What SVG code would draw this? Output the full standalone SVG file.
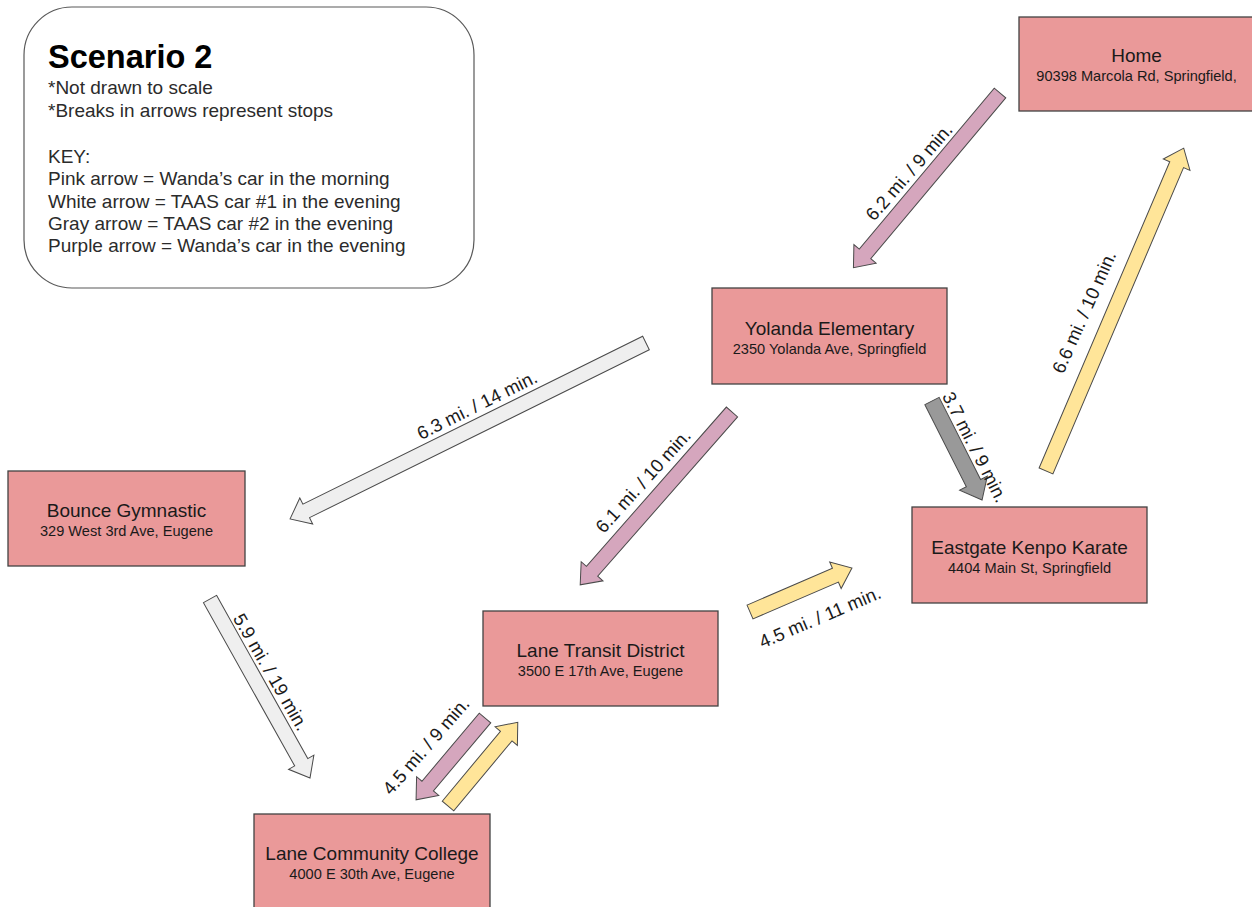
<svg xmlns="http://www.w3.org/2000/svg" width="1252" height="907" viewBox="0 0 1252 907">
<style>
.node rect{fill:#ea9999;stroke:#434343;stroke-width:1.3}
.t{font-family:"Liberation Sans",Arial,sans-serif;fill:#1a1a1a;text-anchor:middle}
.nt{font-size:19px}
.na{font-size:14.6px}
.lg{font-family:"Liberation Sans",Arial,sans-serif;fill:#2b2b2b;font-size:19px}
.ttl{font-family:"Liberation Sans",Arial,sans-serif;fill:#000;font-size:32.5px;font-weight:bold}
.ar{stroke:#4a4a4a;stroke-width:1;stroke-linejoin:miter}
.pink{fill:#d5a6bd}
.yel{fill:#ffe599}
.lgr{fill:#efefef}
.gry{fill:#999999}
.lbl{font-family:"Liberation Sans",Arial,sans-serif;fill:#1a1a1a;font-size:18.5px;text-anchor:middle}
</style>
<rect width="1252" height="907" fill="#fff"/>
<g id="legend">
<rect x="24" y="7" width="450" height="281" rx="48" ry="48" fill="#fff" stroke="#595959" stroke-width="1.2"/>
<text class="ttl" x="48" y="68">Scenario 2</text>
<text class="lg" x="48" y="94">*Not drawn to scale</text>
<text class="lg" x="48" y="117">*Breaks in arrows represent stops</text>
<text class="lg" x="48" y="163">KEY:</text>
<text class="lg" x="48" y="185">Pink arrow = Wanda’s car in the morning</text>
<text class="lg" x="48" y="207.5">White arrow = TAAS car #1 in the evening</text>
<text class="lg" x="48" y="230">Gray arrow = TAAS car #2 in the evening</text>
<text class="lg" x="48" y="252">Purple arrow = Wanda’s car in the evening</text>
</g>
<g id="connectors">
<polygon class="ar pink" transform="translate(1000,93) rotate(130)" points="0,-7.5 210,-7.5 210,-14.5 228,0 210,14.5 210,7.5 0,7.5"/>
<polygon class="ar yel" transform="translate(1046,471) rotate(-66.9)" points="0,-7.5 333,-7.5 333,-14.5 351,0 333,14.5 333,7.5 0,7.5"/>
<polygon class="ar gry" transform="translate(932,401) rotate(63.2)" points="0,-8 92,-8 92,-15.5 111,0 92,15.5 92,8 0,8"/>
<polygon class="ar lgr" transform="translate(646,343) rotate(153.7)" points="0,-7.5 379,-7.5 379,-14.5 397,0 379,14.5 379,7.5 0,7.5"/>
<polygon class="ar pink" transform="translate(732,412) rotate(131.3)" points="0,-7.5 212,-7.5 212,-14.5 230,0 212,14.5 212,7.5 0,7.5"/>
<polygon class="ar lgr" transform="translate(210,599) rotate(60.8)" points="0,-7.5 187,-7.5 187,-14.5 205,0 187,14.5 187,7.5 0,7.5"/>
<polygon class="ar pink" transform="translate(485,718) rotate(130.1)" points="0,-7.5 89,-7.5 89,-14.5 107,0 89,14.5 89,7.5 0,7.5"/>
<polygon class="ar yel" transform="translate(448,806) rotate(-50.2)" points="0,-7.5 91,-7.5 91,-14.5 109,0 91,14.5 91,7.5 0,7.5"/>
<polygon class="ar yel" transform="translate(750,612) rotate(-23.3)" points="0,-7.5 93,-7.5 93,-14.5 111,0 93,14.5 93,7.5 0,7.5"/>
<text class="lbl" transform="translate(909,172) rotate(-49)" dy="0.35em">6.2 mi. / 9 min.</text>
<text class="lbl" transform="translate(1084,312) rotate(-66)" dy="0.35em">6.6 mi. / 10 min.</text>
<text class="lbl" transform="translate(975,447) rotate(63)" dy="0.35em">3.7 mi. / 9 min.</text>
<text class="lbl" transform="translate(477,405) rotate(-26.5)" dy="0.35em">6.3 mi. / 14 min.</text>
<text class="lbl" transform="translate(643,481) rotate(-48)" dy="0.35em">6.1 mi. / 10 min.</text>
<text class="lbl" transform="translate(271,672) rotate(60)" dy="0.35em">5.9 mi. / 19 min.</text>
<text class="lbl" transform="translate(426,746) rotate(-49)" dy="0.35em">4.5 mi. / 9 min.</text>
<text class="lbl" transform="translate(820,617) rotate(-23)" dy="0.35em">4.5 mi. / 11 min.</text>
</g>
<g id="home" class="node">
<rect x="1019" y="17" width="235" height="94"/>
<text class="t nt" x="1136.5" y="62">Home</text>
<text class="t na" x="1136.5" y="81">90398 Marcola Rd, Springfield,</text>
</g>
<g id="yolanda" class="node">
<rect x="712" y="288" width="235" height="96"/>
<text class="t nt" x="829.5" y="335">Yolanda Elementary</text>
<text class="t na" x="829.5" y="354">2350 Yolanda Ave, Springfield</text>
</g>
<g id="eastgate" class="node">
<rect x="912" y="507" width="235" height="96"/>
<text class="t nt" x="1029.5" y="554">Eastgate Kenpo Karate</text>
<text class="t na" x="1029.5" y="573">4404 Main St, Springfield</text>
</g>
<g id="bounce" class="node">
<rect x="8" y="471" width="237" height="95"/>
<text class="t nt" x="126.5" y="517">Bounce Gymnastic</text>
<text class="t na" x="126.5" y="536">329 West 3rd Ave, Eugene</text>
</g>
<g id="lane-transit" class="node">
<rect x="483" y="611" width="235" height="95"/>
<text class="t nt" x="600.5" y="657">Lane Transit District</text>
<text class="t na" x="600.5" y="676">3500 E 17th Ave, Eugene</text>
</g>
<g id="lcc" class="node">
<rect x="254" y="814" width="236" height="100"/>
<text class="t nt" x="372" y="860">Lane Community College</text>
<text class="t na" x="372" y="879">4000 E 30th Ave, Eugene</text>
</g>
</svg>
